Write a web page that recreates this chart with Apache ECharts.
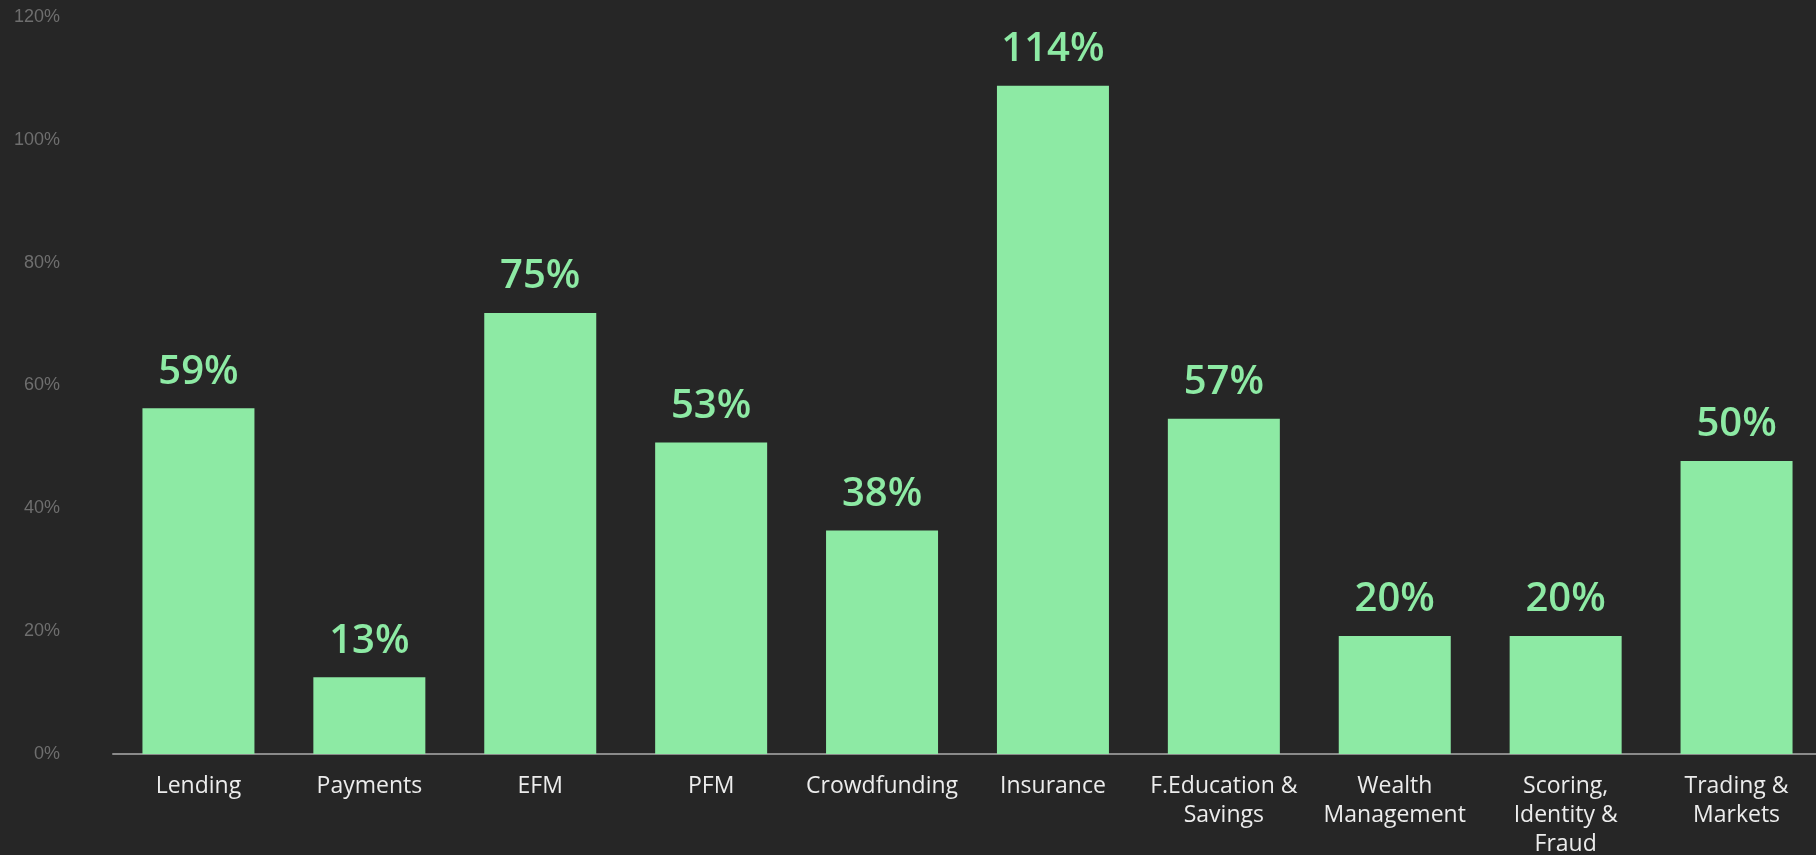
<!DOCTYPE html>
<html>
<head>
<meta charset="utf-8">
<style>
  html, body { margin: 0; padding: 0; background: #262626; }
  #chart { width: 1816px; height: 855px; }
</style>
<script src="https://cdn.jsdelivr.net/npm/echarts@6/dist/echarts.min.js"></script>
</head>
<body>
<div id="chart"></div>
<script>
// categories along the x axis
const categories = ['Lending', 'Payments', 'EFM', 'PFM', 'Crowdfunding', 'Insurance',
  'F.Education &\nSavings', 'Wealth\nManagement', 'Scoring,\nIdentity &\nFraud', 'Trading &\nMarkets']

// bar heights as drawn (%)
const values = [56.3, 12.5, 71.8, 50.7, 36.4, 108.8, 54.6, 19.2, 19.2, 47.7]

// text printed above each bar
const barLabels = ['59%', '13%', '75%', '53%', '38%', '114%', '57%', '20%', '20%', '50%']

const chart = echarts.init(document.getElementById('chart'))

chart.setOption({
  backgroundColor: '#262626',
  animation: false,
  grid: { left: 113, right: -6, top: 17, bottom: 101, outerBoundsMode: 'none', containLabel: false },
  xAxis: {
    type: 'category',
    data: categories,
    axisLine: { lineStyle: { color: '#8a8a8a', width: 2 } },
    axisTick: { show: false },
    axisLabel: {
      color: '#ececec',
      fontFamily: 'Open Sans',
      fontSize: 23,
      lineHeight: 29,
      margin: 18,
      interval: 0
    }
  },
  yAxis: {
    type: 'value',
    min: 0,
    max: 120,
    interval: 20,
    axisLine: { show: false },
    axisTick: { show: false },
    splitLine: { show: false },
    axisLabel: {
      formatter: '{value}%',
      color: '#6e6e6e',
      fontFamily: 'Liberation Sans',
      fontSize: 18,
      margin: 53
    }
  },
  series: [
    {
      type: 'bar',
      data: values,
      barWidth: 112,
      itemStyle: { color: '#8deaa4' },
      label: {
        show: true,
        position: 'top',
        distance: 16,
        color: '#8deaa4',
        fontFamily: 'Open Sans',
        fontWeight: 600,
        fontSize: 40,
        formatter: (p) => barLabels[p.dataIndex]
      }
    }
  ]
})
</script>
</body>
</html>
